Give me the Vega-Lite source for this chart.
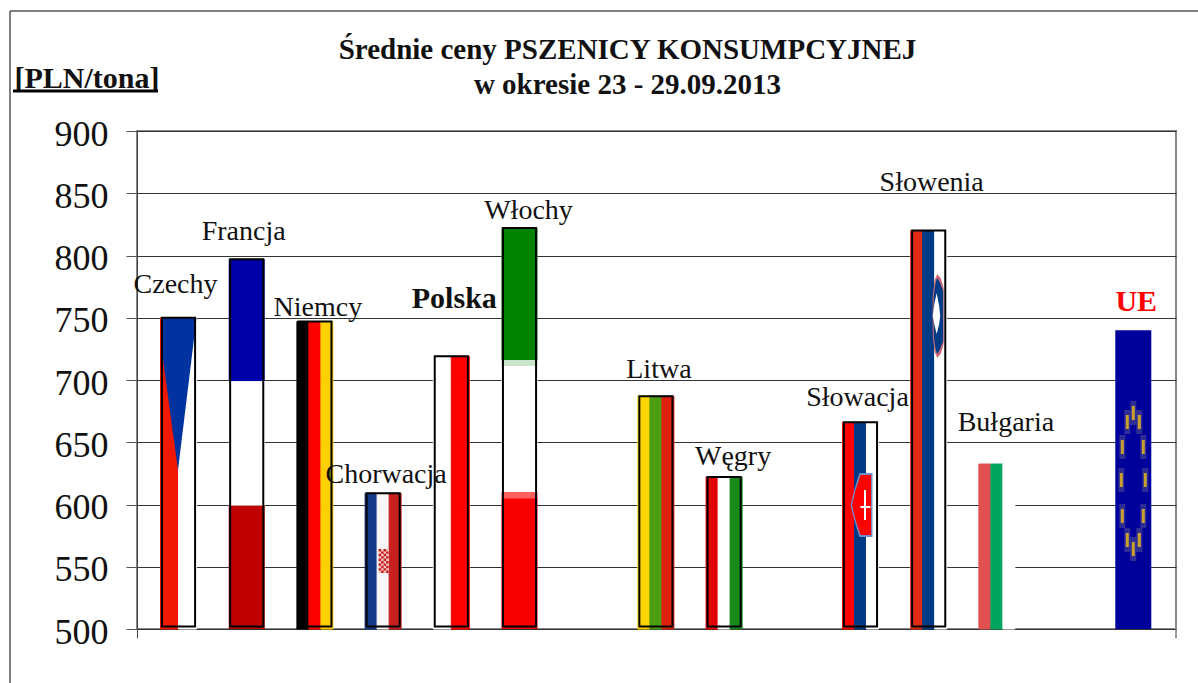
{
"$schema":"https://vega.github.io/schema/vega-lite/v6.json",
"width":1039,"height":498,"autosize":"none",
"padding":{"left":137,"top":131,"right":22,"bottom":54},
"background":"white",
"config":{"view":{"stroke":"#888","strokeWidth":2},"font":"Liberation Serif"},
"title":{"text":["Średnie ceny PSZENICY KONSUMPCYJNEJ","w okresie 23 - 29.09.2013"],"font":"Liberation Serif","fontSize":29,"fontWeight":"bold","color":"#111","anchor":"middle","frame":"group","dx":-29,"offset":-90,"lineHeight":35},
"datasets":{
"pasy":[
{"kraj":"Czechy","kolor":"cz czerwony","sloty":[1,2,3],"od":500,"cena":750},
{"kraj":"Czechy","kolor":"biały","sloty":[4,5,6],"od":500,"cena":750},
{"kraj":"Niemcy","kolor":"czarny","sloty":[1,2],"od":500,"cena":747},
{"kraj":"Niemcy","kolor":"czerwony","sloty":[3,4],"od":500,"cena":747},
{"kraj":"Niemcy","kolor":"złoty","sloty":[5,6],"od":500,"cena":747},
{"kraj":"Chorwacja","kolor":"hr niebieski","sloty":[1,2],"od":500,"cena":609},
{"kraj":"Chorwacja","kolor":"hr biały","sloty":[3,4],"od":500,"cena":609},
{"kraj":"Chorwacja","kolor":"hr czerwony","sloty":[5,6],"od":500,"cena":609},
{"kraj":"Polska","kolor":"biały","sloty":[1,2,3],"od":500,"cena":719},
{"kraj":"Polska","kolor":"czerwony","sloty":[4,5,6],"od":500,"cena":719},
{"kraj":"Litwa","kolor":"lt żółty","sloty":[1,2],"od":500,"cena":687},
{"kraj":"Litwa","kolor":"lt zielony","sloty":[3,4],"od":500,"cena":687},
{"kraj":"Litwa","kolor":"lt czerwony","sloty":[5,6],"od":500,"cena":687},
{"kraj":"Węgry","kolor":"hu czerwony","sloty":[1,2],"od":500,"cena":622},
{"kraj":"Węgry","kolor":"biały","sloty":[3,4],"od":500,"cena":622},
{"kraj":"Węgry","kolor":"hu zielony","sloty":[5,6],"od":500,"cena":622},
{"kraj":"Słowacja","kolor":"czerwony","sloty":[1,2],"od":500,"cena":666},
{"kraj":"Słowacja","kolor":"sk niebieski","sloty":[3,4],"od":500,"cena":666},
{"kraj":"Słowacja","kolor":"biały","sloty":[5,6],"od":500,"cena":666},
{"kraj":"Słowenia","kolor":"si czerwony","sloty":[1,2],"od":500,"cena":820},
{"kraj":"Słowenia","kolor":"si niebieski","sloty":[3,4],"od":500,"cena":820},
{"kraj":"Słowenia","kolor":"biały","sloty":[5,6],"od":500,"cena":820},
{"kraj":"Bułgaria","kolor":"bg czerwony","sloty":[1,2],"od":500,"cena":632.5},
{"kraj":"Bułgaria","kolor":"bg zielony","sloty":[3,4],"od":500,"cena":632.5},
{"kraj":"Bułgaria","kolor":"biały","sloty":[5,6],"od":500,"cena":632.5}
],
"poziome":[
{"kraj":"Francja","kolor":"fr niebieski","od":699,"cena":797},
{"kraj":"Francja","kolor":"biały","od":599,"cena":699},
{"kraj":"Francja","kolor":"fr czerwony","od":500,"cena":599},
{"kraj":"Włochy","kolor":"it zielony","od":716,"cena":822},
{"kraj":"Włochy","kolor":"it blady","od":711,"cena":716},
{"kraj":"Włochy","kolor":"biały","od":610,"cena":711},
{"kraj":"Włochy","kolor":"it różowy","od":605,"cena":610},
{"kraj":"Włochy","kolor":"it czerwony","od":500,"cena":605},
{"kraj":"UE","kolor":"ue niebieski","od":500,"cena":740}
],
"znaki":[
{"kraj":"Czechy","znak":"klin","kolor":"cz niebieski","cena":688.8},
{"kraj":"Chorwacja","znak":"herb tło","kolor":"hr herb","cena":554.6},
{"kraj":"Chorwacja","znak":"herb krata","kolor":"hr czerwony","cena":554.6},
{"kraj":"Słowacja","znak":"tarcza tło","kolor":"sk obwódka","cena":599.6},
{"kraj":"Słowacja","znak":"tarcza","kolor":"czerwony","cena":599.6},
{"kraj":"Słowacja","znak":"krzyż","kolor":"biały","cena":599.6},
{"kraj":"Słowenia","znak":"obwódka","kolor":"si obwódka","cena":751.4},
{"kraj":"Słowenia","znak":"owal","kolor":"si niebieski","cena":751.4},
{"kraj":"Słowenia","znak":"góra","kolor":"biały","cena":751.4},
{"kraj":"UE","znak":"poświata","kolor":"ue poświata","cena":618.9},
{"kraj":"UE","znak":"gwiazdy","kolor":"ue gwiazda","cena":618.9}
],
"kraje":[
{"kraj":"Czechy","cena":750,"opis":769.9,"slot":3},
{"kraj":"Francja","cena":797,"opis":812.4,"slot":3},
{"kraj":"Niemcy","cena":747,"opis":751.4,"slot":4},
{"kraj":"Chorwacja","cena":609,"opis":617.3,"slot":4},
{"kraj":"Polska","cena":719,"opis":757.8,"slot":4},
{"kraj":"Włochy","cena":822,"opis":829.3,"slot":5},
{"kraj":"Litwa","cena":687,"opis":701.6,"slot":4},
{"kraj":"Węgry","cena":622,"opis":631.7,"slot":5},
{"kraj":"Słowacja","cena":666,"opis":679.1,"slot":3},
{"kraj":"Słowenia","cena":820,"opis":851.8,"slot":4},
{"kraj":"Bułgaria","cena":632.5,"opis":659,"slot":5},
{"kraj":"UE","cena":740,"opis":755.4,"slot":4}
]
},
"encoding":{
"x":{"field":"kraj","type":"nominal","axis":null,"scale":{"domain":["Czechy","Francja","Niemcy","Chorwacja","Polska","Włochy","-a","Litwa","Węgry","-b","Słowacja","Słowenia","Bułgaria","-c","UE"],"paddingInner":0.472,"paddingOuter":0.3535,"align":0.4876}},
"fill":{"field":"kolor","type":"nominal","legend":null,"scale":{"domain":["biały","czarny","czerwony","złoty","cz czerwony","cz niebieski","fr niebieski","fr czerwony","hr niebieski","hr biały","hr czerwony","hr herb","it zielony","it blady","it różowy","it czerwony","lt żółty","lt zielony","lt czerwony","hu czerwony","hu zielony","sk niebieski","sk obwódka","si czerwony","si niebieski","si obwódka","bg czerwony","bg zielony","ue niebieski","ue poświata","ue gwiazda"],"range":["#FFFFFF","#000000","#FF0000","#FFD000","#F01800","#0033A0","#0000A8","#BE0000","#14398A","#F7F7F7","#C9201F","#F2C4C4","#008400","#CBE5CB","#FF6060","#F80000","#FFD500","#4C9F13","#E02010","#E00000","#1A8A1A","#003A85","#6E8FCC","#E32A13","#003C85","#D06878","#E05050","#00A65F","#00009A","#2E2E94","#C8A030"]}}
},
"layer":[
{"data":{"name":"pasy"},"transform":[{"flatten":["sloty"]}],
"mark":{"type":"bar","strokeWidth":1},
"encoding":{
"xOffset":{"field":"sloty","type":"nominal","scale":{"domain":[1,2,3,4,5,6],"paddingInner":0,"paddingOuter":0}},
"y":{"field":"cena","type":"quantitative","scale":{"domain":[500,900],"nice":false,"zero":false},
"axis":{"values":[500,550,600,650,700,750,800,850,900],"grid":true,"gridColor":"#333","gridWidth":1,"domainColor":"#444","tickColor":"#555","tickSize":11,"labelFont":"Liberation Serif","labelFontSize":36,"labelColor":"#111","labelPadding":18,"labelOffset":3,"title":"[PLN/tona]","titleFont":"Liberation Serif","titleFontSize":30,"titleFontWeight":"bold","titleColor":"#111","titleAngle":0,"titleAlign":"left","titleBaseline":"alphabetic","titleX":-123,"titleY":-44}},
"y2":{"field":"od"},
"stroke":{"field":"kolor","type":"nominal","legend":null,"scale":{"domain":["biały","czarny","czerwony","złoty","cz czerwony","hr niebieski","hr biały","hr czerwony","lt żółty","lt zielony","lt czerwony","hu czerwony","hu zielony","sk niebieski","si czerwony","si niebieski","bg czerwony","bg zielony"],"range":["#FFFFFF","#000000","#FF0000","#FFD000","#F01800","#14398A","#F7F7F7","#C9201F","#FFD500","#4C9F13","#E02010","#E00000","#1A8A1A","#003A85","#E32A13","#003C85","#E05050","#00A65F"]}}
}},
{"data":{"name":"poziome"},
"mark":{"type":"bar"},
"encoding":{"y":{"field":"cena","type":"quantitative"},"y2":{"field":"od"}}},
{"data":{"name":"znaki"},
"mark":{"type":"point","filled":true,"opacity":1,"strokeWidth":0},
"encoding":{
"y":{"field":"cena","type":"quantitative"},
"size":{"value":160000},
"shape":{"field":"znak","type":"nominal","legend":null,"scale":{"domain":["klin","herb tło","herb krata","tarcza tło","tarcza","krzyż","obwódka","owal","góra","poświata","gwiazdy"],"range":[
"M-0.0875 -0.38 L0.09 -0.38 L-0.0025 0.38 L-0.0875 -0.245 Z",
"M-0.0225 -0.06 h0.05 v0.12 h-0.05 Z",
"M-0.0225 -0.06 h0.0125 v0.012 h-0.0125 Z M0.0025 -0.06 h0.0125 v0.012 h-0.0125 Z M-0.01 -0.048 h0.0125 v0.012 h-0.0125 Z M0.015 -0.048 h0.0125 v0.012 h-0.0125 Z M-0.0225 -0.036 h0.0125 v0.012 h-0.0125 Z M0.0025 -0.036 h0.0125 v0.012 h-0.0125 Z M-0.01 -0.024 h0.0125 v0.012 h-0.0125 Z M0.015 -0.024 h0.0125 v0.012 h-0.0125 Z M-0.0225 -0.012 h0.0125 v0.012 h-0.0125 Z M0.0025 -0.012 h0.0125 v0.012 h-0.0125 Z M-0.01 0 h0.0125 v0.012 h-0.0125 Z M0.015 0 h0.0125 v0.012 h-0.0125 Z M-0.0225 0.012 h0.0125 v0.012 h-0.0125 Z M0.0025 0.012 h0.0125 v0.012 h-0.0125 Z M-0.01 0.024 h0.0125 v0.012 h-0.0125 Z M0.015 0.024 h0.0125 v0.012 h-0.0125 Z M-0.0225 0.036 h0.0125 v0.012 h-0.0125 Z M0.0025 0.036 h0.0125 v0.012 h-0.0125 Z M-0.01 0.048 h0.0125 v0.012 h-0.0125 Z M0.015 0.048 h0.0125 v0.012 h-0.0125 Z",
"M-0.005 -0.16 L0.06 -0.16 L0.06 0.16 L-0.005 0.16 L-0.03 0.08 L-0.05 0 L-0.03 -0.08 Z",
"M0 -0.15 L0.0525 -0.15 L0.0525 0.15 L0 0.15 L-0.025 0.075 L-0.0425 0 L-0.025 -0.075 Z",
"M0.0175 -0.075 L0.0275 -0.075 L0.0275 0.075 L0.0175 0.075 Z M0 0.005 L0.05 0.005 L0.05 0.015 L0 0.015 Z",
"M0.043 -0.21 L0.06 -0.19 L0.075 -0.14 L0.075 0.14 L0.06 0.19 L0.043 0.21 L0.03 0.18 L0.02 0.1 L0.02 -0.1 L0.03 -0.18 Z",
"M0.043 -0.19 L0.055 -0.17 L0.0725 -0.125 L0.0725 0.125 L0.055 0.17 L0.043 0.19 L0.035 0.17 L0.025 0.1 L0.025 -0.1 L0.035 -0.17 Z",
"M0.02 0 L0.03 -0.07 L0.04 -0.115 L0.0525 -0.05 L0.0575 0 L0.0525 0.04 L0.04 0.09 L0.03 0.05 Z",
"M-0.015 -0.4 h0.03 v0.12 h-0.03 Z M-0.045 -0.355 h0.03 v0.12 h-0.03 Z M0.015 -0.355 h0.03 v0.12 h-0.03 Z M-0.07 -0.23 h0.03 v0.12 h-0.03 Z M0.035 -0.23 h0.03 v0.12 h-0.03 Z M-0.075 -0.065 h0.03 v0.12 h-0.03 Z M0.045 -0.065 h0.03 v0.12 h-0.03 Z M-0.07 0.115 h0.03 v0.12 h-0.03 Z M0.035 0.115 h0.03 v0.12 h-0.03 Z M-0.045 0.235 h0.03 v0.12 h-0.03 Z M0.015 0.235 h0.03 v0.12 h-0.03 Z M-0.015 0.28 h0.03 v0.12 h-0.03 Z",
"M-0.0075 -0.375 h0.015 v0.07 h-0.015 Z M-0.0375 -0.33 h0.015 v0.07 h-0.015 Z M0.0225 -0.33 h0.015 v0.07 h-0.015 Z M-0.0625 -0.205 h0.015 v0.07 h-0.015 Z M0.0425 -0.205 h0.015 v0.07 h-0.015 Z M-0.0675 -0.04 h0.015 v0.07 h-0.015 Z M0.0525 -0.04 h0.015 v0.07 h-0.015 Z M-0.0625 0.14 h0.015 v0.07 h-0.015 Z M0.0425 0.14 h0.015 v0.07 h-0.015 Z M-0.0375 0.26 h0.015 v0.07 h-0.015 Z M0.0225 0.26 h0.015 v0.07 h-0.015 Z M-0.0075 0.305 h0.015 v0.07 h-0.015 Z"
]}}
}},
{"data":{"name":"kraje"},"transform":[{"filter":{"not":{"field":"kraj","oneOf":["Bułgaria","UE"]}}}],
"mark":{"type":"bar","fillOpacity":0,"fill":"transparent","stroke":"#000","strokeWidth":2,"width":{"band":0.92}},
"encoding":{"fill":{"value":"transparent"},"y":{"field":"cena","type":"quantitative"},"y2":{"datum":502}}},
{"data":{"name":"kraje"},"transform":[{"filter":{"not":{"field":"kraj","oneOf":["Polska","UE"]}}}],
"mark":{"type":"text","font":"Liberation Serif","fontSize":28,"baseline":"alphabetic","align":"center"},
"encoding":{"fill":{"value":"#111"},"xOffset":{"field":"slot","type":"nominal"},"y":{"field":"opis","type":"quantitative"},"text":{"field":"kraj"}}},
{"data":{"name":"kraje"},"transform":[{"filter":{"field":"kraj","equal":"Polska"}}],
"mark":{"type":"text","font":"Liberation Serif","fontSize":30,"fontWeight":"bold","baseline":"alphabetic","align":"center"},
"encoding":{"fill":{"value":"#111"},"xOffset":{"field":"slot","type":"nominal"},"y":{"field":"opis","type":"quantitative"},"text":{"field":"kraj"}}},
{"data":{"name":"kraje"},"transform":[{"filter":{"field":"kraj","equal":"UE"}}],
"mark":{"type":"text","font":"Liberation Serif","fontSize":30,"fontWeight":"bold","baseline":"alphabetic","align":"center"},
"encoding":{"fill":{"value":"#FF0000"},"xOffset":{"field":"slot","type":"nominal"},"y":{"field":"opis","type":"quantitative"},"text":{"field":"kraj"}}},
{"data":{"values":[{"cecha":"lewa oś"}]},"mark":{"type":"rule","color":"#444","strokeWidth":1,"clip":false},
"encoding":{"fill":{"value":null},"x":{"value":0.5},"y":{"datum":500},"y2":{"datum":492.5}}},
{"data":{"values":[{"cecha":"prawa oś"}]},"mark":{"type":"rule","color":"#777","strokeWidth":1.5,"clip":false},
"encoding":{"fill":{"value":null},"x":{"value":1039},"y":{"datum":500},"y2":{"datum":492.5}}},
{"data":{"values":[{"cecha":"ramka lewa"}]},"mark":{"type":"rule","color":"#555","strokeWidth":1.5,"clip":false},
"encoding":{"fill":{"value":null},"x":{"value":-127},"y":{"value":-120},"y2":{"value":552}}},
{"data":{"values":[{"cecha":"ramka górna"}]},"mark":{"type":"rule","color":"#555","strokeWidth":1.5,"clip":false},
"encoding":{"fill":{"value":null},"y":{"value":-120},"x":{"value":-127},"x2":{"value":1061}}},
{"data":{"values":[{"cecha":"podkreślenie"}]},"mark":{"type":"rule","color":"#000","strokeWidth":3,"clip":false},
"encoding":{"fill":{"value":null},"y":{"value":-40},"x":{"value":-124},"x2":{"value":21}}}
]
}
